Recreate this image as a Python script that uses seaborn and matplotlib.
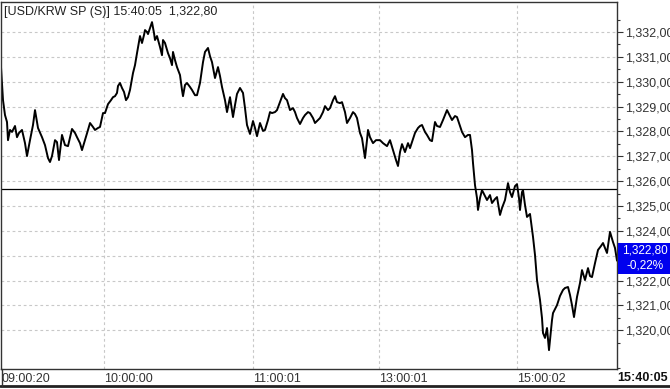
import numpy as np
import pandas as pd
import matplotlib
matplotlib.use("Agg")
import matplotlib.pyplot as plt
import seaborn as sns
from matplotlib.lines import Line2D
from matplotlib.patches import Rectangle
from matplotlib.ticker import FixedLocator, FuncFormatter

# ---------------- data ----------------
tick = [0, 2, 4, 6, 7, 9, 11, 14, 16, 18, 21, 24, 26, 29, 32, 34, 37, 41, 44, 47,
        49, 51, 54, 56, 58, 61, 64, 67, 71, 74, 76, 79, 81, 84, 87, 89, 92, 94, 97, 99,
        102, 104, 107, 110, 112, 114, 116, 117, 119, 121, 123, 125, 127, 129, 132, 134, 136, 138, 139, 141,
        143, 144, 146, 147, 149, 151, 153, 154, 156, 159, 161, 162, 164, 166, 167, 169, 171, 172, 174, 176,
        179, 181, 182, 184, 186, 189, 191, 194, 196, 199, 202, 204, 207, 209, 211, 214, 217, 219, 221, 224,
        226, 229, 232, 234, 236, 239, 242, 244, 246, 249, 252, 254, 256, 259, 262, 264, 267, 269, 271, 274,
        276, 279, 282, 284, 286, 289, 292, 294, 296, 299, 302, 304, 307, 309, 312, 314, 317, 319, 322, 324,
        327, 329, 332, 334, 336, 339, 341, 344, 346, 349, 352, 354, 356, 359, 361, 364, 366, 367, 369, 372,
        375, 379, 382, 386, 389, 392, 395, 397, 399, 401, 404, 407, 409, 411, 414, 417, 419, 421, 424, 426,
        429, 431, 434, 436, 439, 442, 444, 446, 449, 451, 454, 456, 459, 461, 464, 467, 469, 471, 472, 474,
        476, 477, 479, 481, 484, 486, 489, 491, 494, 496, 499, 501, 504, 507, 509, 511, 514, 516, 518, 519,
        521, 522, 524, 526, 529, 532, 534, 536, 539, 541, 542, 544, 546, 548, 551, 552, 556, 559, 562, 564,
        567, 569, 571, 573, 576, 579, 581, 584, 587, 589, 591, 594, 597, 600, 602, 604, 606, 609, 612, 614,
        616]
price = [1330.59, 1329.26, 1328.66, 1328.38, 1327.65, 1328.06, 1327.98, 1328.22, 1327.77, 1327.94,
         1328.06, 1327.53, 1327.01, 1327.65, 1328.26, 1328.86, 1328.14, 1327.77, 1327.45, 1326.93,
         1326.77, 1327.01, 1327.65, 1327.57, 1326.85, 1327.86, 1327.45, 1327.41, 1328.10, 1327.94,
         1327.77, 1327.53, 1327.25, 1327.65, 1328.06, 1328.34, 1328.18, 1328.06, 1328.14, 1328.18,
         1328.74, 1328.74, 1329.10, 1329.26, 1329.38, 1329.42, 1329.55, 1329.83, 1329.95, 1329.75,
         1329.59, 1329.26, 1329.38, 1329.67, 1330.35, 1330.67, 1331.15, 1331.60, 1331.84, 1331.56,
         1331.88, 1332.08, 1332.00, 1331.92, 1332.16, 1332.40, 1331.96, 1331.68, 1331.84, 1331.40,
         1331.07, 1331.68, 1331.56, 1331.28, 1331.15, 1330.95, 1330.67, 1331.20, 1330.87, 1330.59,
         1330.27, 1329.67, 1329.42, 1329.87, 1329.95, 1329.79, 1329.67, 1329.46, 1329.46, 1329.95,
         1330.79, 1331.20, 1331.36, 1331.03, 1330.79, 1330.15, 1330.59, 1330.23, 1329.79, 1329.26,
         1328.78, 1329.38, 1328.58, 1329.06, 1329.51, 1329.75, 1329.55, 1328.94, 1328.26, 1327.90,
         1328.42, 1328.14, 1327.81, 1328.34, 1328.02, 1328.06, 1328.46, 1328.78, 1328.74, 1328.78,
         1328.86, 1329.18, 1329.51, 1329.34, 1329.26, 1328.86, 1328.94, 1328.78, 1328.54, 1328.30,
         1328.54, 1328.66, 1328.78, 1328.74, 1328.54, 1328.34, 1328.46, 1328.54, 1328.78, 1329.02,
         1328.86, 1328.94, 1329.26, 1329.42, 1329.18, 1329.14, 1329.18, 1328.78, 1328.34, 1328.54,
         1328.78, 1328.70, 1328.54, 1327.94, 1327.73, 1326.93, 1327.65, 1328.06, 1327.77, 1327.53,
         1327.65, 1327.65, 1327.53, 1327.41, 1327.65, 1327.25, 1326.85, 1326.61, 1327.17, 1327.49,
         1327.17, 1327.53, 1327.33, 1327.57, 1327.94, 1328.14, 1328.22, 1328.26, 1327.98, 1327.86,
         1327.65, 1327.61, 1328.38, 1328.22, 1328.18, 1328.46, 1328.66, 1328.86, 1328.62, 1328.46,
         1328.62, 1328.58, 1328.22, 1327.98, 1327.77, 1327.86, 1327.86, 1327.25, 1326.73, 1325.84,
         1325.32, 1324.84, 1325.32, 1325.64, 1325.40, 1325.24, 1325.44, 1325.12, 1325.28, 1325.36,
         1324.64, 1324.92, 1325.24, 1325.92, 1325.56, 1325.36, 1325.80, 1325.88, 1325.32, 1324.84,
         1325.56, 1325.64, 1325.04, 1324.56, 1324.68, 1323.76, 1323.03, 1322.02, 1321.22, 1320.49,
         1319.89, 1319.69, 1320.09, 1319.20, 1320.41, 1320.69, 1321.01, 1321.38, 1321.62, 1321.70,
         1321.74, 1321.42, 1321.01, 1320.53, 1321.34, 1321.90, 1322.42, 1322.02, 1322.50, 1322.18,
         1322.14, 1322.70, 1323.23, 1323.39, 1323.51, 1323.31, 1323.11, 1323.96, 1323.55, 1323.31,
         1322.80]

prev_close = 1325.70
last_price = "1,322,80"
last_change = "-0,22%"
last_time = "15:40:05"
title = "[USD/KRW SP (S)] 15:40:05  1,322,80"
time_labels = ["09:00:20", "10:00:00", "11:00:01", "13:00:01", "15:00:02"]
time_label_ticks = [0, 103, 252, 378, 516]
y_ticks = [1320, 1321, 1322, 1323, 1324, 1325, 1326, 1327, 1328, 1329, 1330, 1331, 1332]
hidden_y_label = 1323  # covered by the last-price box

# ---------------- figure ----------------
sns.set_style("white")
plt.rcParams['font.family'] = ['Liberation Sans', 'DejaVu Sans']

W, H = 670, 389
fig = plt.figure(figsize=(W / 100, H / 100), dpi=100)
fig.patch.set_facecolor("white")

ax_l, ax_r, ax_t, ax_b = 1, 617, 2, 369
ax = fig.add_axes([ax_l / W, (H - ax_b) / H, (ax_r - ax_l) / W, (ax_b - ax_t) / H])

df = pd.DataFrame({"tick": tick, "price": price})
sns.lineplot(data=df, x="tick", y="price", ax=ax, color="black", linewidth=1.4,
             estimator=None, sort=False)

ax.set_xlim(0, 616)
ax.set_ylim(1318.44, 1333.21)

# grid
for v in y_ticks:
    ax.axhline(v, color="#c8c8c8", lw=0.8, ls=(0, (2.5, 2.5)), zorder=0)
for t in time_label_ticks[1:]:
    ax.axvline(t, color="#c8c8c8", lw=0.8, ls=(0, (2.5, 2.5)), zorder=0)

ax.axhline(prev_close, color="black", lw=0.9, zorder=1)

for s in ax.spines.values():
    s.set_color("#333333")
    s.set_linewidth(1.0)

# y axis on the right
ax.yaxis.tick_right()
ax.yaxis.set_label_position("right")
ax.yaxis.set_major_locator(FixedLocator(y_ticks))
ax.yaxis.set_minor_locator(FixedLocator([v + 0.5 for v in range(1318, 1333)]))
ax.yaxis.set_major_formatter(FuncFormatter(
    lambda v, p: "" if int(round(v)) == hidden_y_label else f"{int(round(v)):,}" + ",00"))
ax.tick_params(axis="y", which="major", length=4, width=0.8, color="#333333",
               labelsize=9, labelcolor="#333333", pad=2, right=True, left=False)
ax.tick_params(axis="y", which="minor", length=2, width=0.8, color="#333333",
               right=True, left=False)

# x axis labels
ax.set_xticks(time_label_ticks)
ax.set_xticklabels(time_labels)
for lab in ax.get_xticklabels():
    lab.set_horizontalalignment("left")
ax.tick_params(axis="x", length=0, labelsize=9, labelcolor="#333333", pad=3)
ax.set_xlabel("")
ax.set_ylabel("")

# title
fig.text(4 / W, 1 - 12 / H, title, ha="left", va="center", fontsize=9, color="#222222")

# last time (bold)
fig.text(668 / W, 1 - 378 / H, last_time, ha="right", va="center", fontsize=9,
         fontweight="bold", color="#111111")

# blue last-price box
fig.patches.append(Rectangle((618 / W, 1 - 274 / H), 52 / W, 31 / H,
                             transform=fig.transFigure, facecolor="#0000ee",
                             edgecolor="none", zorder=5))
fig.text(645 / W, 1 - 250.5 / H, last_price, ha="center", va="center", fontsize=8.5,
         color="white", zorder=6)
fig.text(645 / W, 1 - 266 / H, last_change, ha="center", va="center", fontsize=8.5,
         color="white", zorder=6)

# outer frame lines at the bottom
fig.lines.append(Line2D([0, 1], [1 - 386 / H, 1 - 386 / H], transform=fig.transFigure,
                        color="#222222", lw=2))
fig.lines.append(Line2D([1.5 / W, 1.5 / W], [1 - 386 / H, 1 - 369 / H],
                        transform=fig.transFigure, color="#333333", lw=1))

fig.savefig("out.png", dpi=100, facecolor="white")
